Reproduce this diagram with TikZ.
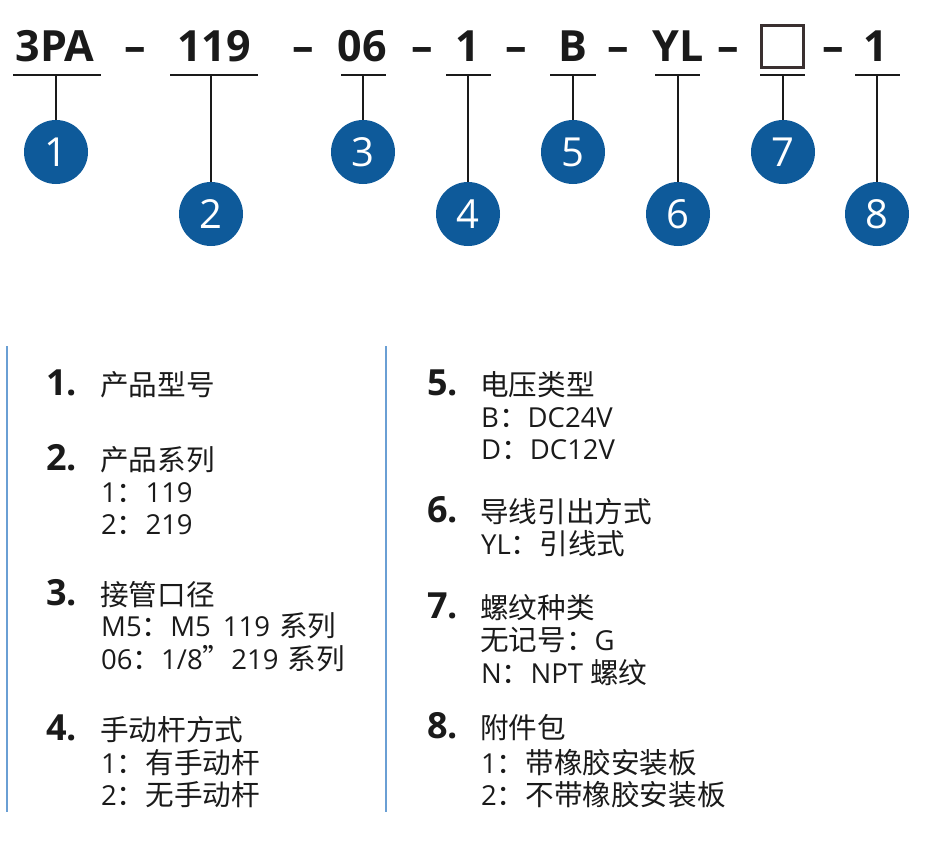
\documentclass[tikz,border=0pt]{standalone}
\usepackage{fontspec}
\setmainfont{Open Sans}
\newfontfamily\cjk[Scale=1.04]{Noto Sans CJK SC}
\newcommand\zh[1]{{\cjk #1}}
\definecolor{cblue}{HTML}{0E5A9A}
\definecolor{lblue}{HTML}{6A9FD4}
\definecolor{ink}{HTML}{1A1A1A}
\definecolor{boxc}{HTML}{3A3030}
\begin{document}
\begin{tikzpicture}[x=1pt,y=-1pt,
 code/.style={font=\fontsize{43}{43}\selectfont\bfseries, anchor=base, inner sep=0, text=ink},
 bar/.style={fill=ink, minimum height=2.8, inner sep=0},
 num/.style={circle, fill=cblue, minimum size=64, inner sep=0, text=white, font=\fontsize{40}{40}\selectfont},
 lead/.style={draw=ink, line width=1.6},
 head/.style={anchor=base west, inner sep=0, text=ink, font=\fontsize{36}{36}\selectfont\bfseries},
 item/.style={anchor=base west, inner sep=0, text=ink, font=\fontsize{27.5}{32}\selectfont},
 sep/.style={draw=lblue, line width=1.8}
]
\useasboundingbox (0,0) rectangle (948,849);
% code line
\node[code] (c1) at (55,61) {3PA};
\node[code] (d1) at (135.5,61) {–};
\node[code] (c2) at (214,61) {119};
\node[code] (d2) at (303,61) {–};
\node[code] (c3) at (362,61) {06};
\node[code] (d3) at (422,61) {–};
\node[code] (c4) at (468,61) {1};
\node[code] (d4) at (516,61) {–};
\node[code] (c5) at (573,61) {B};
\node[code] (d5) at (618,61) {–};
\node[code] (c6) at (678,61) {YL};
\node[code] (d6) at (728.5,61) {–};
\node[draw=boxc, line width=2.2, minimum width=42, minimum height=42, inner sep=0] (c7) at (782.5,46.5) {};
\node[code] (d7) at (833,61) {–};
\node[code] (c8) at (876,61) {1};
% bars
\node[bar, minimum width=88] (u1) at (57,75) {};
\node[bar, minimum width=88] (u2) at (214,75) {};
\node[bar, minimum width=45] (u3) at (363.5,75) {};
\node[bar, minimum width=45] (u4) at (468.5,75) {};
\node[bar, minimum width=46] (u5) at (573,75) {};
\node[bar, minimum width=45] (u6) at (677.5,75) {};
\node[bar, minimum width=45] (u7) at (782.5,75) {};
\node[bar, minimum width=45] (u8) at (877.5,75) {};
% circles
\node[num] (n1) at (56,152) {1};
\node[num] (n2) at (211,214) {2};
\node[num] (n3) at (363,152) {3};
\node[num] (n4) at (468,214) {4};
\node[num] (n5) at (573,152) {5};
\node[num] (n6) at (678,214) {6};
\node[num] (n7) at (783,152) {7};
\node[num] (n8) at (877,214) {8};
% leaders
\draw[lead] (n1.north |- u1.center) -- (n1.north);
\draw[lead] (n2.north |- u2.center) -- (n2.north);
\draw[lead] (n3.north |- u3.center) -- (n3.north);
\draw[lead] (n4.north |- u4.center) -- (n4.north);
\draw[lead] (n5.north |- u5.center) -- (n5.north);
\draw[lead] (n6.north |- u6.center) -- (n6.north);
\draw[lead] (n7.north |- u7.center) -- (n7.north);
\draw[lead] (n8.north |- u8.center) -- (n8.north);
% separators
\draw[sep] (7,346) -- (7,812);
\draw[sep] (386,346) -- (386,812);
% left column
\node[head] (h1) at (46,395) {1.};
\node[item] (t1) at (100,395) {\zh{产品型号}};
\node[head] (h2) at (46,470) {2.};
\node[item] (t2) at (100,470) {\zh{产品系列}};
\node[item] (t2a) at (101,502) {1\zh{：}119};
\node[item] (t2b) at (101,534) {2\zh{：}219};
\node[head] (h3) at (46,605) {3.};
\node[item] (t3) at (100,605) {\zh{接管口径}};
\node[item] (t3a) at (101,636) {M5\zh{：}M5\hspace{12pt}119\hspace{9pt}\zh{系列}};
\node[item] (t3b) at (101,669) {06\zh{：}1/8\zh{”}219\hspace{9pt}\zh{系列}};
\node[head] (h4) at (46,740) {4.};
\node[item] (t4) at (100,740) {\zh{手动杆方式}};
\node[item] (t4a) at (101,773) {1\zh{：有手动杆}};
\node[item] (t4b) at (101,805) {2\zh{：无手动杆}};
% right column
\node[head] (h5) at (427,395) {5.};
\node[item] (t5) at (480,395) {\zh{电压类型}};
\node[item] (t5a) at (481,427) {B\zh{：}DC24V};
\node[item] (t5b) at (481,459) {D\zh{：}DC12V};
\node[head] (h6) at (427,522) {6.};
\node[item] (t6) at (480,522) {\zh{导线引出方式}};
\node[item] (t6a) at (481,554) {YL\zh{：引线式}};
\node[head] (h7) at (427,618) {7.};
\node[item] (t7) at (480,618) {\zh{螺纹种类}};
\node[item] (t7a) at (480,650) {\zh{无记号：}G};
\node[item] (t7b) at (481,683) {N\zh{：}NPT \zh{螺纹}};
\node[head] (h8) at (427,738) {8.};
\node[item] (t8) at (480,738) {\zh{附件包}};
\node[item] (t8a) at (481,773) {1\zh{：带橡胶安装板}};
\node[item] (t8b) at (481,805) {2\zh{：不带橡胶安装板}};
\end{tikzpicture}
\end{document}
